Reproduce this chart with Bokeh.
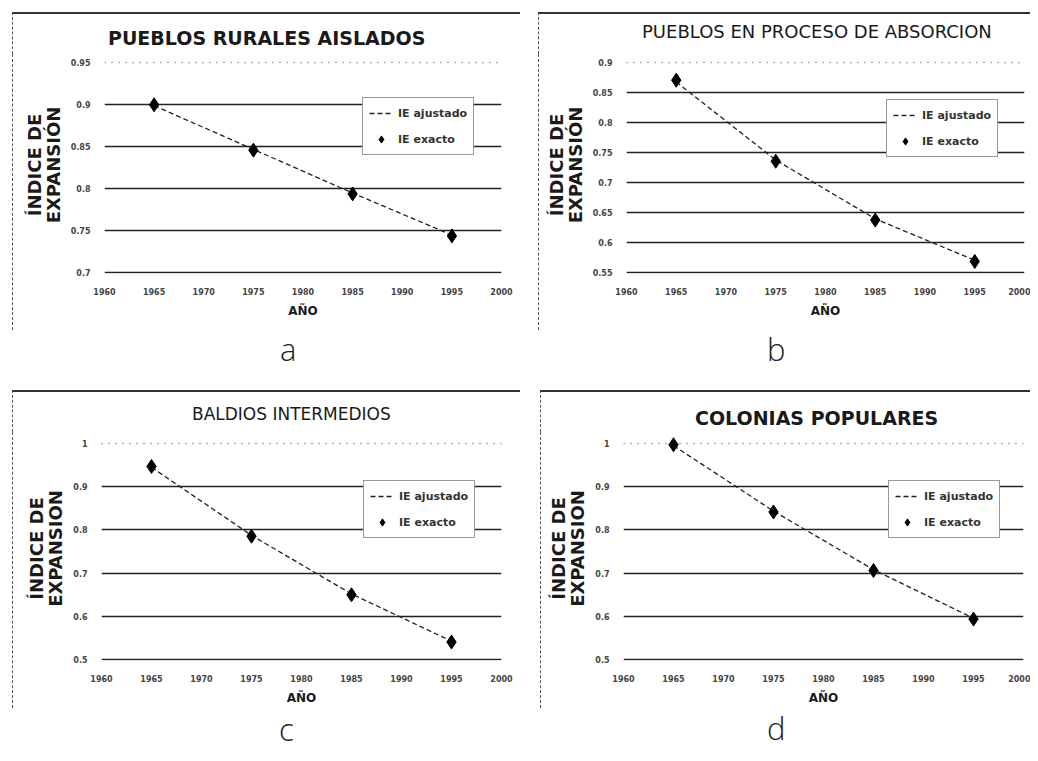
from bokeh.plotting import figure
from bokeh.models import FixedTicker, Grid, Legend, LegendItem, Div, Spacer, Range1d
from bokeh.layouts import column, row
from bokeh.embed import file_html
from bokeh.resources import INLINE

# ---------------- data ----------------
anios = [1965, 1975, 1985, 1995]
x_ticks = [1960, 1965, 1970, 1975, 1980, 1985, 1990, 1995, 2000]
x_tick_labels = ["1960", "1965", "1970", "1975", "1980", "1985", "1990", "1995", "2000"]

a_titulo = "PUEBLOS RURALES AISLADOS"
a_exacto = [0.900, 0.846, 0.794, 0.744]
a_ajustado = [0.899, 0.847, 0.795, 0.745]
a_y_ticks = [0.7, 0.75, 0.8, 0.85, 0.9, 0.95]
a_y_labels = ["0.7", "0.75", "0.8", "0.85", "0.9", "0.95"]

b_titulo = "PUEBLOS EN PROCESO DE ABSORCION"
b_exacto = [0.871, 0.736, 0.638, 0.569]
b_ajustado = [0.868, 0.738, 0.640, 0.571]
b_y_ticks = [0.55, 0.6, 0.65, 0.7, 0.75, 0.8, 0.85, 0.9]
b_y_labels = ["0.55", "0.6", "0.65", "0.7", "0.75", "0.8", "0.85", "0.9"]

c_titulo = "BALDIOS INTERMEDIOS"
c_exacto = [0.946, 0.785, 0.650, 0.541]
c_ajustado = [0.944, 0.787, 0.652, 0.543]
c_y_ticks = [0.5, 0.6, 0.7, 0.8, 0.9, 1.0]
c_y_labels = ["0.5", "0.6", "0.7", "0.8", "0.9", "1"]

d_titulo = "COLONIAS POPULARES"
d_exacto = [0.996, 0.841, 0.706, 0.594]
d_ajustado = [0.994, 0.843, 0.708, 0.596]
d_y_ticks = [0.5, 0.6, 0.7, 0.8, 0.9, 1.0]
d_y_labels = ["0.5", "0.6", "0.7", "0.8", "0.9", "1"]

serie_ajustado = "IE ajustado"
serie_exacto = "IE exacto"
x_titulo = "AÑO"

TITLE_H = 42


def panel(ylab, exacto, ajustado, yticks, ylabels, w, h, mb, leg_loc):
    span = yticks[-1] - yticks[0]
    p = figure(width=w, height=h, output_backend="svg", toolbar_location=None,
               x_range=Range1d(x_ticks[0], x_ticks[-1]),
               y_range=Range1d(yticks[0] - 0.003 * span, yticks[-1] + 0.03 * span),
               min_border_left=mb[0], min_border_right=mb[1],
               min_border_top=mb[2], min_border_bottom=mb[3])
    p.outline_line_color = None
    p.background_fill_color = "white"
    p.border_fill_color = "white"

    for ax in (p.xaxis[0], p.yaxis[0]):
        ax.axis_line_color = None
        ax.major_tick_line_color = None
        ax.minor_tick_line_color = None
        ax.major_label_text_font = "DejaVu Sans"
        ax.major_label_text_font_size = "8px"
        ax.major_label_text_font_style = "bold"
        ax.major_label_text_color = "#444444"
        ax.axis_label_text_font = "DejaVu Sans"
        ax.axis_label_text_font_style = "bold"
        ax.axis_label_text_color = "#1a1a1a"

    p.xaxis.ticker = FixedTicker(ticks=x_ticks)
    p.xaxis.major_label_overrides = dict(zip(x_ticks, x_tick_labels))
    p.xaxis.axis_label = x_titulo
    p.xaxis.axis_label_text_font_size = "12px"
    p.xaxis.major_label_standoff = 8
    p.xaxis.axis_label_standoff = 6

    p.yaxis.ticker = FixedTicker(ticks=yticks)
    p.yaxis.major_label_overrides = dict(zip(yticks, ylabels))
    p.yaxis.axis_label = ylab
    p.yaxis.axis_label_text_font_size = "18px"
    p.yaxis.axis_label_text_line_height = 0.9
    p.yaxis.major_label_standoff = 8
    p.yaxis.axis_label_standoff = 4

    p.xgrid.visible = False
    p.ygrid.ticker = FixedTicker(ticks=yticks[:-1])
    p.ygrid.grid_line_color = "#222222"
    p.ygrid.grid_line_width = 1.4
    top = Grid(dimension=1, ticker=FixedTicker(ticks=yticks[-1:]),
               grid_line_color="#666666", grid_line_dash="1 6", grid_line_width=1.5)
    p.add_layout(top)

    ln = p.line(anios, ajustado, line_color="#222222", line_width=1.3, line_dash="5 3")
    sc = p.scatter(anios, exacto, marker="diamond", size=14, color="black")

    leg = Legend(items=[LegendItem(label=serie_ajustado, renderers=[ln]),
                        LegendItem(label=serie_exacto, renderers=[sc])],
                 location=leg_loc)
    leg.label_text_font = "DejaVu Sans"
    leg.label_text_font_size = "11px"
    leg.label_text_font_style = "bold"
    leg.label_text_color = "#333333"
    leg.border_line_color = "#333333"
    leg.border_line_width = 1.2
    leg.background_fill_color = "white"
    leg.background_fill_alpha = 1.0
    leg.padding = 6
    leg.spacing = 8
    leg.glyph_width = 24
    leg.glyph_height = 18
    leg.margin = 0
    p.add_layout(leg)
    p.styles = {"border-left": "1px dashed #555"}
    return p


def titulo(t, w, left, top, size, weight):
    return Div(text=(f'<div style="box-sizing:border-box;width:{w}px;height:{TITLE_H}px;'
                     f'border-top:2px solid #333;border-left:1px dashed #555;position:relative">'
                     f'<span style="position:absolute;left:{left}px;top:{top}px;'
                     f'font-family:\'DejaVu Sans\';font-size:{size}px;font-weight:{weight};'
                     f'color:#1a1a1a;line-height:1;white-space:nowrap">{t}</span></div>'),
               width=w, height=TITLE_H, margin=0)


def etiqueta(t, w, h, left, top):
    return Div(text=f'<div style="position:relative;left:{left}px;top:{top}px;'
                    f'font-family:\'Open Sans\';font-weight:300;font-size:31px;'
                    f'color:#222;line-height:1">{t}</div>', width=w, height=h, margin=0)


FH = 318 - TITLE_H
pa = panel("ÍNDICE DE\nEXPANSIÓN", a_exacto, a_ajustado, a_y_ticks, a_y_labels,
           508, FH, (91, 20, 2, 57), (258, 118))
pb = panel("ÍNDICE DE\nEXPANSIÓN", b_exacto, b_ajustado, b_y_ticks, b_y_labels,
           492, FH, (87, 7, 2, 57), (260, 116))
pc = panel("ÍNDICE DE\nEXPANSION", c_exacto, c_ajustado, c_y_ticks, c_y_labels,
           508, FH, (88, 20, 4, 48), (262, 122))
pd = panel("ÍNDICE DE\nEXPANSION", d_exacto, d_ajustado, d_y_ticks, d_y_labels,
           490, FH, (82, 8, 4, 48), (265, 122))

ta = titulo(a_titulo, 508, 95, 15, 19, "bold")
tb = titulo(b_titulo, 492, 103, 9, 18, "normal")
tc = titulo(c_titulo, 508, 179, 14, 17, "normal")
td = titulo(d_titulo, 490, 154, 17, 19, "bold")

layout = column(
    Spacer(height=12),
    row(Spacer(width=12), column(ta, pa), Spacer(width=18), column(tb, pb)),
    row(Spacer(width=12), etiqueta("a", 508, 60, 268, 4), Spacer(width=18),
        etiqueta("b", 492, 60, 229, 4)),
    row(Spacer(width=12), column(tc, pc), Spacer(width=20), column(td, pd)),
    row(Spacer(width=12), etiqueta("c", 508, 40, 267, 6), Spacer(width=20),
        etiqueta("d", 490, 40, 227, 5)),
)

open("out.html", "w").write(file_html(layout, INLINE))
